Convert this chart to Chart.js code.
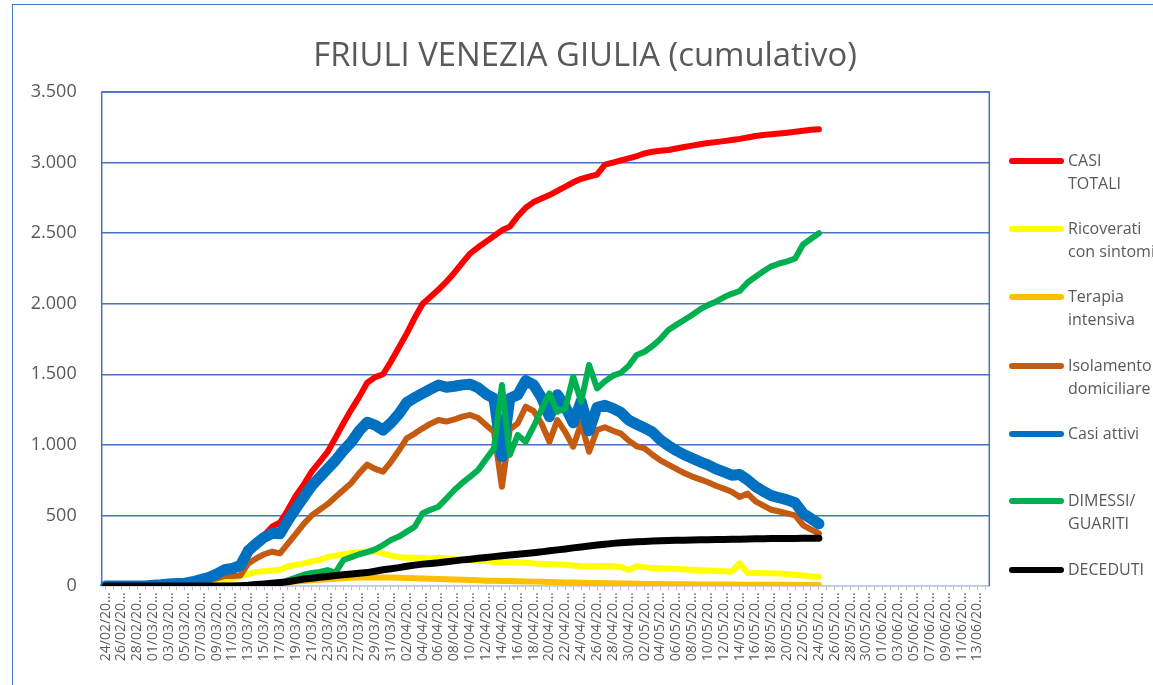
<!DOCTYPE html>
<html>
<head>
<meta charset="utf-8">
<script src="https://cdn.jsdelivr.net/npm/chart.js@4.4.1/dist/chart.umd.min.js"></script>
<style>
  html, body { margin: 0; padding: 0; background: #fff; }
  #box { position: relative; width: 1153px; height: 685px; overflow: hidden; }
  #cornice { position: absolute; left: 12px; top: 4px; width: 1200px; height: 720px; border: 1px solid #4472C4; }
  #grafico { position: absolute; left: 0; top: 0; }
</style>
</head>
<body>
<div id="box">
  <div id="cornice"></div>
  <canvas id="grafico" width="1153" height="685"></canvas>
</div>
<script>
// giorni sull'asse (24/02 - 14/06)
const giorni = [
  "24/02/2020","25/02/2020","26/02/2020","27/02/2020","28/02/2020","29/02/2020",
  "01/03/2020","02/03/2020","03/03/2020","04/03/2020","05/03/2020","06/03/2020","07/03/2020","08/03/2020","09/03/2020","10/03/2020",
  "11/03/2020","12/03/2020","13/03/2020","14/03/2020","15/03/2020","16/03/2020","17/03/2020","18/03/2020","19/03/2020","20/03/2020",
  "21/03/2020","22/03/2020","23/03/2020","24/03/2020","25/03/2020","26/03/2020","27/03/2020","28/03/2020","29/03/2020","30/03/2020","31/03/2020",
  "01/04/2020","02/04/2020","03/04/2020","04/04/2020","05/04/2020","06/04/2020","07/04/2020","08/04/2020","09/04/2020","10/04/2020",
  "11/04/2020","12/04/2020","13/04/2020","14/04/2020","15/04/2020","16/04/2020","17/04/2020","18/04/2020","19/04/2020","20/04/2020",
  "21/04/2020","22/04/2020","23/04/2020","24/04/2020","25/04/2020","26/04/2020","27/04/2020","28/04/2020","29/04/2020","30/04/2020",
  "01/05/2020","02/05/2020","03/05/2020","04/05/2020","05/05/2020","06/05/2020","07/05/2020","08/05/2020","09/05/2020","10/05/2020",
  "11/05/2020","12/05/2020","13/05/2020","14/05/2020","15/05/2020","16/05/2020","17/05/2020","18/05/2020","19/05/2020","20/05/2020",
  "21/05/2020","22/05/2020","23/05/2020","24/05/2020","25/05/2020","26/05/2020","27/05/2020","28/05/2020","29/05/2020","30/05/2020","31/05/2020",
  "01/06/2020","02/06/2020","03/06/2020","04/06/2020","05/06/2020","06/06/2020","07/06/2020","08/06/2020","09/06/2020","10/06/2020",
  "11/06/2020","12/06/2020","13/06/2020","14/06/2020"
];

const casiTotali = [
  0,0,0,0,0,0,5,9,15,18,
  20,30,45,60,85,115,125,150,255,310,
  360,420,450,540,640,720,810,880,950,1050,
  1153,1250,1340,1440,1480,1500,1590,1690,1790,1900,
  2000,2050,2100,2156,2220,2290,2357,2400,2440,2480,
  2520,2546,2620,2680,2720,2745,2770,2800,2830,2860,
  2885,2900,2915,2985,3000,3015,3030,3045,3065,3077,
  3083,3089,3100,3110,3120,3130,3138,3145,3152,3160,
  3168,3178,3188,3196,3201,3206,3212,3219,3226,3232,
  3236
];
const ricoverati = [
  0,0,0,0,0,0,0,0,2,3,
  4,6,10,14,20,40,50,70,85,100,
  105,110,115,140,150,160,175,185,205,215,
  225,235,240,245,245,230,215,205,200,200,
  198,195,200,195,190,185,182,178,175,172,
  170,168,168,165,160,158,155,152,150,145,
  140,140,140,142,140,135,113,140,132,128,
  125,122,120,117,115,112,110,107,104,102,
  160,92,92,90,90,88,85,80,75,70,
  66
];
const terapia = [
  0,0,0,0,0,0,0,0,0,0,
  0,0,1,2,3,4,4,5,8,12,
  15,20,24,28,31,35,40,44,48,52,
  55,58,60,61,61,60,60,58,57,55,
  53,51,50,48,46,44,42,40,38,37,
  36,35,33,32,31,30,28,27,25,24,
  23,22,21,20,19,18,17,16,15,14,
  14,13,13,12,12,11,11,10,10,10,
  9,9,9,8,8,8,8,7,7,7,
  7
];
const isolamento = [
  0,0,0,0,0,0,3,5,10,12,
  14,20,30,40,55,70,70,75,160,195,
  225,243,231,300,370,440,500,540,580,630,
  680,730,800,860,830,810,880,960,1047,1080,
  1117,1150,1176,1165,1180,1200,1212,1190,1140,1093,
  703,1110,1153,1270,1240,1150,1022,1176,1090,987,
  1153,952,1105,1125,1100,1080,1030,990,975,930,
  890,860,830,800,775,755,735,710,690,668,
  630,655,600,570,540,528,515,500,432,400,
  373
];
const casiAttivi = [
  0,0,0,0,0,0,5,9,15,18,
  20,30,45,60,85,115,125,145,250,300,
  345,373,370,465,550,630,710,770,830,890,
  960,1020,1100,1160,1140,1105,1155,1220,1300,1335,
  1365,1395,1424,1408,1415,1425,1430,1405,1360,1330,
  916,1330,1354,1455,1425,1335,1200,1355,1270,1156,
  1310,1100,1266,1280,1259,1230,1175,1146,1120,1090,
  1035,995,960,930,905,880,858,830,808,785,
  790,752,705,670,640,625,610,590,515,478,
  440
];
const guariti = [
  0,0,0,0,0,0,0,0,0,0,
  0,0,0,0,0,0,0,0,0,0,
  0,5,19,40,60,80,92,100,113,95,
  184,205,225,240,260,290,326,350,385,420,
  515,540,562,620,680,730,775,822,900,975,
  1424,928,1070,1022,1130,1250,1365,1235,1259,1483,
  1306,1566,1400,1450,1490,1510,1560,1637,1660,1700,
  1750,1814,1850,1885,1920,1960,1990,2014,2045,2070,
  2090,2150,2191,2230,2265,2285,2300,2320,2420,2460,
  2499
];
const deceduti = [
  0,0,0,0,0,0,0,0,0,0,
  0,0,0,0,0,0,0,2,5,10,
  15,20,25,30,40,50,55,62,68,75,
  80,85,90,95,105,115,122,130,140,148,
  155,160,165,172,178,185,190,196,202,208,
  215,220,225,230,236,242,250,256,262,270,
  277,283,290,296,302,306,310,313,316,318,
  320,322,324,325,326,327,328,329,330,331,
  332,333,334,335,336,336,337,337,338,338,
  339
];

const yTicks = [0, 500, 1000, 1500, 2000, 2500, 3000, 3500];

const FONT = '"Open Sans", "Liberation Sans", sans-serif';
const GRIGIO = '#595959';

function serie(label, data, colore, spessore, ordine) {
  return {
    label: label,
    data: data,
    borderColor: colore,
    backgroundColor: colore,
    borderWidth: spessore,
    pointRadius: 0,
    pointHoverRadius: 0,
    tension: 0,
    fill: false,
    borderCapStyle: 'round',
    borderJoinStyle: 'round',
    order: ordine
  };
}

function puntini(n) {
  return n.toString().replace(/\B(?=(\d{3})+(?!\d))/g, '.');
}

// titolo, cornice dell'area e legenda a destra
const decorazioni = {
  id: 'decorazioni',
  beforeDatasetsDraw(chart) {
    const ctx = chart.ctx, a = chart.chartArea;
    ctx.save();
    ctx.strokeStyle = '#4472C4';
    ctx.lineWidth = 1.5;
    ctx.beginPath();
    ctx.moveTo(a.left, a.bottom);
    ctx.lineTo(a.left, a.top);
    ctx.lineTo(a.right, a.top);
    ctx.lineTo(a.right, a.bottom);
    ctx.stroke();
    ctx.restore();
  },
  afterDraw(chart) {
    const ctx = chart.ctx;
    ctx.save();
    // titolo
    let titolo = 'FRIULI VENEZIA GIULIA (cumulativo)';
    ctx.font = '30px ' + FONT;
    let size = 30 * 544 / ctx.measureText(titolo).width;
    ctx.font = size.toFixed(1) + 'px ' + FONT;
    ctx.fillStyle = GRIGIO;
    ctx.textAlign = 'center';
    ctx.textBaseline = 'middle';
    ctx.fillText(titolo, 585, 57);

    // legenda
    const righe = [161, 229, 297, 366, 434, 501, 570];
    ctx.font = '16px ' + FONT;
    ctx.textAlign = 'left';
    chart.data.datasets.forEach((ds, i) => {
      const y = righe[i];
      ctx.strokeStyle = ds.borderColor;
      ctx.lineWidth = 6;
      ctx.lineCap = 'round';
      ctx.beginPath();
      ctx.moveTo(1012, y);
      ctx.lineTo(1061, y);
      ctx.stroke();
      ctx.fillStyle = GRIGIO;
      ds.label.split('\n').forEach((t, k) => {
        ctx.fillText(t, 1068, y + k * 23.5);
      });
    });
    ctx.restore();
  }
};

new Chart(document.getElementById('grafico'), {
  type: 'line',
  data: {
    labels: giorni,
    datasets: [
      serie('CASI\nTOTALI', casiTotali, '#FF0000', 6, 6),
      serie('Ricoverati\ncon sintomi', ricoverati, '#FFFF00', 6, 5),
      serie('Terapia\nintensiva', terapia, '#FFC000', 6, 4),
      serie('Isolamento\ndomiciliare', isolamento, '#C55A11', 6, 3),
      serie('Casi attivi', casiAttivi, '#0070C0', 11, 2),
      serie('DIMESSI/\nGUARITI', guariti, '#00B050', 6, 1),
      serie('DECEDUTI', deceduti, '#000000', 7, 0)
    ]
  },
  options: {
    responsive: false,
    animation: false,
    devicePixelRatio: 1,
    layout: { padding: { top: 92, right: 163.7, left: 0, bottom: 0 } },
    plugins: {
      legend: { display: false },
      title: { display: false },
      tooltip: { enabled: false }
    },
    scales: {
      x: {
        offset: true,
        afterFit(s) { s.height = 99; },
        grid: { display: true, drawOnChartArea: false, drawTicks: true, tickLength: 4, color: '#BFBFBF' },
        border: { display: true, color: '#BFC8DE', width: 1.5 },
        ticks: {
          autoSkip: false,
          minRotation: 90,
          maxRotation: 90,
          padding: 2,
          color: GRIGIO,
          font: { family: FONT, size: 14 },
          callback: function (val, i) {
            return i % 2 === 0 ? this.getLabelForValue(val).slice(0, 8) + '…' : '';
          }
        }
      },
      y: {
        min: 0,
        max: 3500,
        afterFit(s) { s.width = 101.7; },
        afterBuildTicks(s) { s.ticks = yTicks.map(v => ({ value: v })); },
        grid: {
          drawTicks: false,
          lineWidth: 1.5,
          color: ctx => ctx.index === 0 ? '#BFC8DE' : '#4472C4'
        },
        border: { display: false },
        ticks: {
          padding: 25,
          color: GRIGIO,
          font: { family: FONT, size: 18 },
          callback: v => puntini(v)
        }
      }
    }
  },
  plugins: [decorazioni]
});
</script>
</body>
</html>
